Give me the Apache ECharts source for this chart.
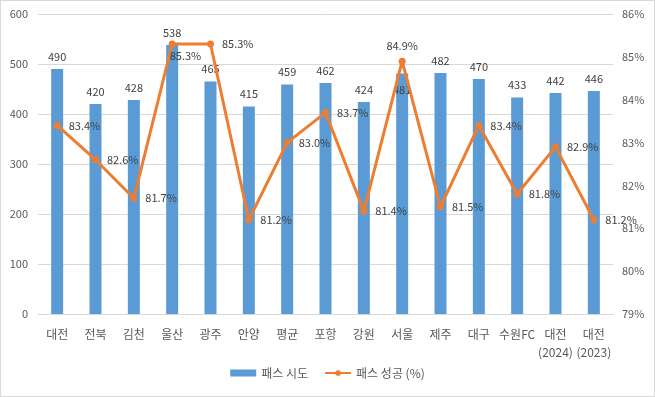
<!DOCTYPE html>
<html>
<head>
<meta charset="utf-8">
<script src="https://cdn.jsdelivr.net/npm/echarts@6/dist/echarts.min.js"></script>
<style>
  html, body { margin: 0; padding: 0; background: #fff; }
  #chart { width: 653px; height: 395px; border: 1px solid #d9d9d9; }
</style>
</head>
<body>
<div id="chart"></div>
<script>
// 팀 목록 (x축)
const categories = ['대전', '전북', '김천', '울산', '광주', '안양', '평균', '포항', '강원', '서울', '제주', '대구', '수원FC', '대전\n(2024)', '대전\n(2023)']
// 패스 시도
const passAttempts = [490, 420, 428, 538, 465, 415, 459, 462, 424, 481, 482, 470, 433, 442, 446]
// 패스 성공률 (%)
const passSuccess = [83.4, 82.6, 81.7, 85.3, 85.3, 81.2, 83.0, 83.7, 81.4, 84.9, 81.5, 83.4, 81.8, 82.9, 81.2]

const FONT = '"Noto Sans CJK KR", "Noto Sans", sans-serif'
const TEXT = '#595959'
const LABEL = '#404040'

const chart = echarts.init(document.getElementById('chart'), null, { renderer: 'canvas' })

// 라벨 위치를 개별 조정한 데이터 항목
const barData = passAttempts.map((v, i) => {
    if (i === 9) return { value: v, label: { position: 'insideTop', distance: 5, offset: [0, 6] } }
    return v
})
const lineData = passSuccess.map((v, i) => {
    if (i === 3) return { value: v, label: { position: 'right', distance: 0, offset: [-6, 12] } }
    if (i === 9) return { value: v, label: { position: 'top', distance: 6 } }
    return v
})

chart.setOption({
    animation: false,
    textStyle: { fontFamily: FONT },
    grid: { left: 37, right: 41, top: 13, bottom: 82, containLabel: false },
    legend: {
        bottom: 12,
        left: 'center',
        itemGap: 16,
        itemWidth: 26,
        itemHeight: 7,
        textStyle: { color: TEXT, fontSize: 12, fontFamily: FONT },
        data: [
            { name: '패스 시도', icon: 'rect' },
            { name: '패스 성공 (%)' }
        ]
    },
    xAxis: {
        type: 'category',
        data: categories,
        axisLine: { lineStyle: { color: '#d9d9d9', width: 1 } },
        axisTick: { show: false },
        axisLabel: { color: TEXT, fontSize: 12, margin: 11, lineHeight: 18, interval: 0, fontFamily: FONT }
    },
    yAxis: [
        {
            type: 'value',
            min: 0, max: 600, interval: 100,
            axisLine: { show: false },
            axisTick: { show: false },
            splitLine: { lineStyle: { color: '#d9d9d9', width: 1 } },
            axisLabel: { color: TEXT, fontSize: 11, margin: 10, fontFamily: FONT }
        },
        {
            type: 'value',
            min: 79, max: 86, interval: 1,
            axisLine: { show: false },
            axisTick: { show: false },
            splitLine: { show: false },
            axisLabel: { color: TEXT, fontSize: 11, margin: 9, formatter: '{value}%', fontFamily: FONT }
        }
    ],
    series: [
        {
            name: '패스 시도',
            type: 'bar',
            yAxisIndex: 0,
            data: barData,
            barWidth: 12,
            itemStyle: { color: '#5b9bd5' },
            label: { show: true, position: 'top', distance: 7, color: LABEL, fontSize: 11, fontFamily: FONT }
        },
        {
            name: '패스 성공 (%)',
            type: 'line',
            yAxisIndex: 1,
            data: lineData,
            symbol: 'circle',
            symbolSize: 7,
            lineStyle: { color: '#ed7d31', width: 3 },
            itemStyle: { color: '#ed7d31' },
            label: {
                show: true,
                position: 'right',
                distance: 8,
                color: LABEL,
                fontSize: 11,
                fontFamily: FONT,
                formatter: (p) => p.value.toFixed(1) + '%'
            }
        }
    ]
})

window.addEventListener('resize', () => chart.resize())
</script>
</body>
</html>
